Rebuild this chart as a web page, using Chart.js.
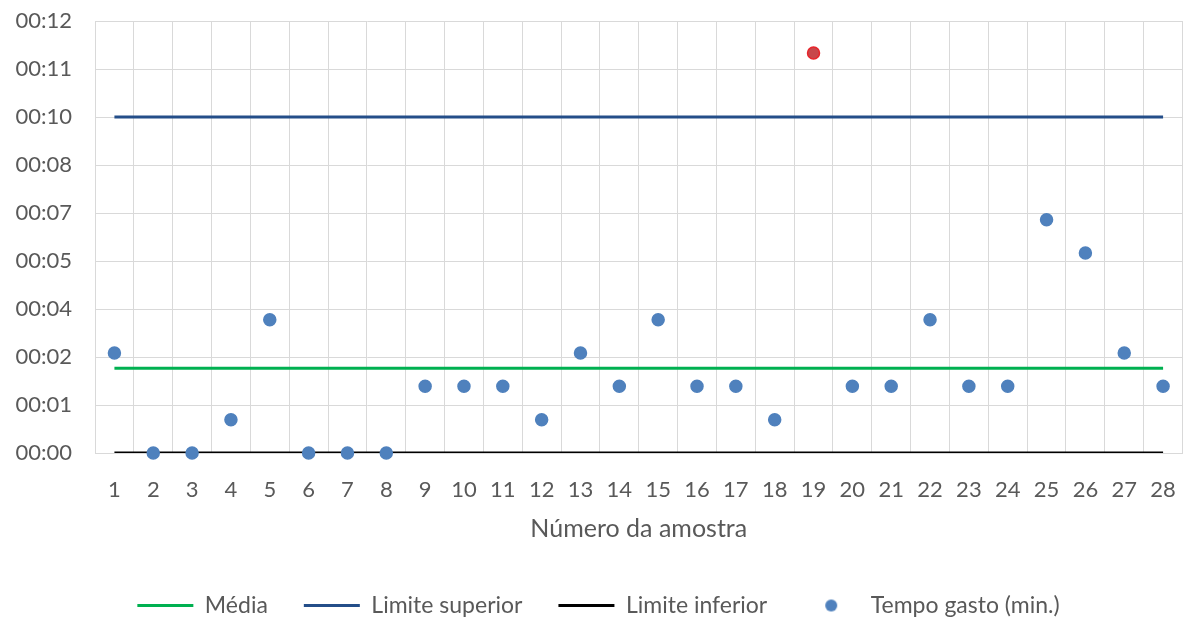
<!DOCTYPE html>
<html>
<head>
<meta charset="utf-8">
<script src="https://cdn.jsdelivr.net/npm/chart.js@4/dist/chart.umd.min.js"></script>
<style>
  html, body { margin: 0; padding: 0; background: #ffffff; }
  #wrap { width: 1190px; height: 619px; position: relative; }
</style>
</head>
<body>
<div id="wrap"><canvas id="c"></canvas></div>
<script>
// ---- data (minutes) ----
const categories = ['1','2','3','4','5','6','7','8','9','10','11','12','13','14','15','16','17','18','19','20','21','22','23','24','25','26','27','28'];
const tempoGasto = [3,0,0,1,4,0,0,0,2,2,2,1,3,2,4,2,2,1,12,2,2,4,2,2,7,6,3,2];
const media = [2.54,2.54,2.54,2.54,2.54,2.54,2.54,2.54,2.54,2.54,2.54,2.54,2.54,2.54,2.54,2.54,2.54,2.54,2.54,2.54,2.54,2.54,2.54,2.54,2.54,2.54,2.54,2.54];
const limiteSuperior = [10.08,10.08,10.08,10.08,10.08,10.08,10.08,10.08,10.08,10.08,10.08,10.08,10.08,10.08,10.08,10.08,10.08,10.08,10.08,10.08,10.08,10.08,10.08,10.08,10.08,10.08,10.08,10.08];
const limiteInferior = [0,0,0,0,0,0,0,0,0,0,0,0,0,0,0,0,0,0,0,0,0,0,0,0,0,0,0,0];
const yTickValues = [0,1.44,2.88,4.32,5.76,7.2,8.64,10.08,11.52,12.96];
const yTickLabels = ['00:00','00:01','00:02','00:04','00:05','00:07','00:08','00:10','00:11','00:12'];
const outlierIndex = 18;

const BLUE_PT = '#4F81BD';
const TEXT = '#595959';
const GRID = '#D9D9D9';
const FONT = 'Lato, "Open Sans", sans-serif';

const ptColors = tempoGasto.map((v, i) => i === outlierIndex ? '#C8474B' : BLUE_PT);
const ptBorders = tempoGasto.map((v, i) => i === outlierIndex ? '#E8252B' : BLUE_PT);

// legend dot image
const dot = document.createElement('canvas');
dot.width = 14; dot.height = 14;
(function(){ const g = dot.getContext('2d'); g.fillStyle = BLUE_PT; g.beginPath(); g.arc(7,7,6,0,Math.PI*2); g.fill(); })();

new Chart(document.getElementById('c'), {
  type: 'line',
  data: {
    labels: categories,
    datasets: [
      { label: 'Média', data: media, borderColor: '#00B050', backgroundColor: '#00B050', borderWidth: 3, pointRadius: 0, order: 1, pointStyle: 'line' },
      { label: 'Limite superior', data: limiteSuperior, borderColor: '#244E89', backgroundColor: '#244E89', borderWidth: 3, pointRadius: 0, order: 1, pointStyle: 'line' },
      { label: 'Limite inferior', data: limiteInferior, borderColor: '#000000', backgroundColor: '#000000', borderWidth: 3, pointRadius: 0, order: 1, pointStyle: 'line' },
      { label: 'Tempo gasto (min.)', data: tempoGasto, showLine: false, pointRadius: 6, pointBorderWidth: 1.5,
        pointBackgroundColor: ptColors, pointBorderColor: ptBorders, backgroundColor: BLUE_PT, borderColor: BLUE_PT,
        order: 0, pointStyle: 'circle', clip: false }
    ]
  },
  options: {
    responsive: true,
    maintainAspectRatio: false,
    animation: false,
    layout: { padding: { left: 12, right: 5, top: 21, bottom: -8 } },
    plugins: {
      tooltip: { enabled: false },
      legend: {
        position: 'bottom',
        labels: {
          usePointStyle: true,
          pointStyleWidth: 56,
          padding: 36,
          color: TEXT,
          font: { family: FONT, size: 23 },
          generateLabels: (chart) => chart.data.datasets.map((ds, i) => ({
            text: ds.label,
            fillStyle: ds.backgroundColor,
            strokeStyle: ds.borderColor,
            lineWidth: i < 3 ? 3 : 0,
            pointStyle: i < 3 ? 'line' : dot,
            fontColor: TEXT,
            hidden: false,
            datasetIndex: i
          }))
        }
      }
    },
    scales: {
      x: {
        type: 'category',
        offset: true,
        grid: { offset: true, color: GRID, lineWidth: 1, drawTicks: false },
        border: { display: true, color: GRID },
        ticks: { color: TEXT, font: { family: FONT, size: 22 }, padding: 24, maxRotation: 0, autoSkip: false },
        title: { display: true, text: 'Número da amostra', color: TEXT, font: { family: FONT, size: 25 }, padding: { top: 12, bottom: 13.6 } },
        afterFit: (s) => { s.height = 105; s.paddingLeft = 0; s.paddingRight = 0; }
      },
      y: {
        min: 0,
        max: 12.96,
        afterBuildTicks: (s) => { s.ticks = yTickValues.map(v => ({ value: v })); },
        grid: { color: GRID, lineWidth: 1, drawTicks: false },
        border: { display: true, color: GRID },
        ticks: {
          color: TEXT, font: { family: FONT, size: 22 }, padding: 23,
          callback: (v, i) => yTickLabels[i]
        },
        afterFit: (s) => { s.width = 83; s.paddingTop = 0; s.paddingBottom = 0; }
      }
    }
  }
});
</script>
</body>
</html>
